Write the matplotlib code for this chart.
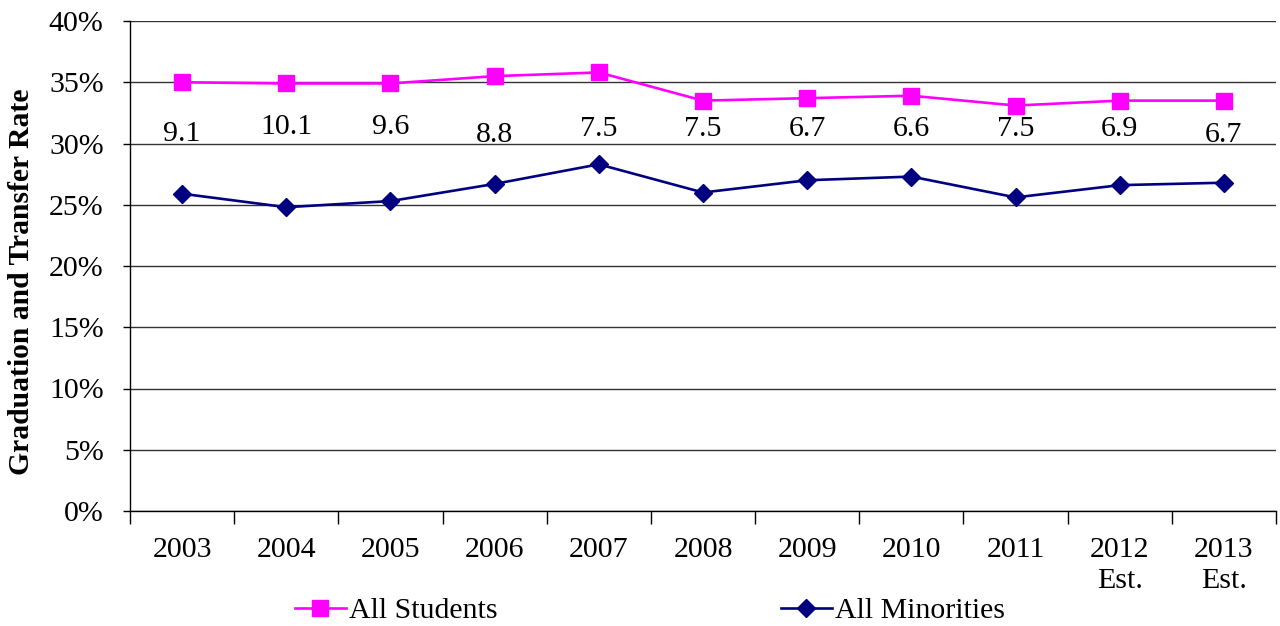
import matplotlib
matplotlib.use("Agg")
import matplotlib.pyplot as plt
from matplotlib.lines import Line2D

years = ["2003", "2004", "2005", "2006", "2007", "2008", "2009", "2010", "2011",
         "2012\nEst.", "2013\nEst."]
all_students = [35.0, 34.9, 34.9, 35.5, 35.8, 33.5, 33.7, 33.9, 33.1, 33.5, 33.5]
all_minorities = [25.9, 24.8, 25.3, 26.7, 28.3, 26.0, 27.0, 27.3, 25.6, 26.6, 26.8]
gap_labels = ["9.1", "10.1", "9.6", "8.8", "7.5", "7.5", "6.7", "6.6", "7.5", "6.9", "6.7"]

# vertical nudges (points) for the gap labels
label_nudge = [-3, 2, 2, -4, 0, 0, 0, 0, 0, 0, -4]

plt.rcParams["font.family"] = ["Liberation Serif", "DejaVu Serif"]
FS = 21.5

W, H = 1280, 626
fig = plt.figure(figsize=(W / 100, H / 100), dpi=100)
ax = fig.add_axes([130 / W, 1 - 511 / H, (1276 - 130) / W, (511 - 21) / H])

x = list(range(len(years)))
pink = "#FF00FF"
navy = "#000080"

ax.plot(x, all_students, color=pink, lw=1.9, marker="s", ms=11,
        markeredgecolor=pink, zorder=3)
ax.plot(x, all_minorities, color=navy, lw=1.9, marker="D", ms=9,
        markeredgecolor=navy, zorder=3)

for xi, lab, dy in zip(x, gap_labels, label_nudge):
    ax.annotate(lab, (xi, 31.15), xytext=(0, dy), textcoords="offset points",
                ha="center", va="center", fontsize=FS)

ax.set_xlim(-0.5, len(years) - 0.5)
ax.set_ylim(0, 40)
ax.set_yticks(range(0, 41, 5))
ax.set_yticklabels([f"{v}%" for v in range(0, 41, 5)], fontsize=FS)
ax.yaxis.grid(True, color="#333333", lw=1)
ax.set_axisbelow(True)

ax.set_xticks(x)
ax.set_xticklabels(years, fontsize=FS, linespacing=1.25)
ax.set_xticks([i - 0.5 for i in range(len(years) + 1)], minor=True)
ax.tick_params(axis="x", which="major", length=0, pad=19)
ax.tick_params(axis="x", which="minor", length=9, width=1, direction="out")
ax.tick_params(axis="y", length=5, width=1, direction="out", pad=14)

for s in ("top", "right"):
    ax.spines[s].set_visible(False)
for s in ("left", "bottom"):
    ax.spines[s].set_linewidth(1)
    ax.spines[s].set_color("black")

ax.set_ylabel("Graduation and Transfer Rate", fontsize=21.3, fontweight="bold")
ax.yaxis.set_label_coords(-95 / (1276 - 130), 0.467)

handles = [
    Line2D([], [], color=pink, lw=1.9, marker="s", ms=11, markeredgecolor=pink),
    Line2D([], [], color=navy, lw=1.9, marker="D", ms=9, markeredgecolor=navy),
]
fig.legend(handles, ["All Students", "All Minorities"], ncol=2, frameon=False,
           loc="center left", bbox_to_anchor=(295 / W, 1 - 611 / H),
           fontsize=FS, handlelength=1.7, handletextpad=0.1,
           columnspacing=9.5, borderaxespad=0, borderpad=0)

fig.savefig("out.png", dpi=100)
